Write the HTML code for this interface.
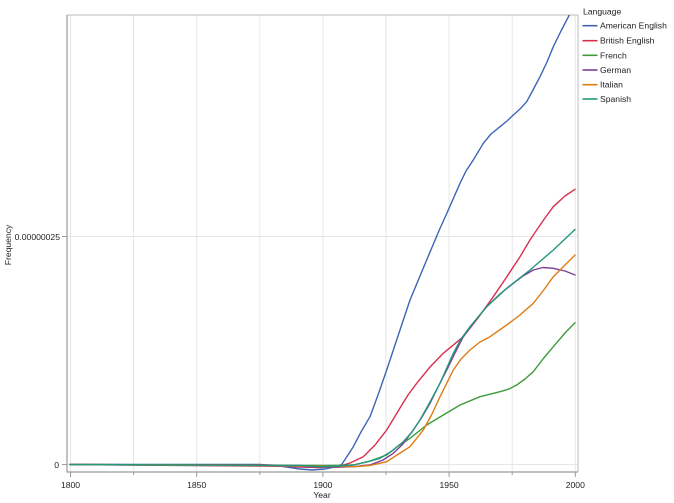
<!DOCTYPE html>
<html><head><meta charset="utf-8"><style>
html,body{margin:0;padding:0;background:#fff;}
svg{display:block;font-family:"Liberation Sans",Arial,sans-serif;}
</style></head><body>
<svg width="674" height="503" viewBox="0 0 674 503" xmlns="http://www.w3.org/2000/svg">
<defs><clipPath id="c"><rect x="67" y="15" width="511" height="457"/></clipPath></defs>
<rect width="674" height="503" fill="#fff"/>
<g stroke="#e6e6e6" stroke-width="1">
<line x1="70.5" y1="15" x2="70.5" y2="472"/><line x1="133.6" y1="15" x2="133.6" y2="472"/><line x1="196.7" y1="15" x2="196.7" y2="472"/><line x1="259.8" y1="15" x2="259.8" y2="472"/><line x1="322.9" y1="15" x2="322.9" y2="472"/><line x1="386" y1="15" x2="386" y2="472"/><line x1="449.1" y1="15" x2="449.1" y2="472"/><line x1="512.2" y1="15" x2="512.2" y2="472"/><line x1="575.3" y1="15" x2="575.3" y2="472"/>
<line x1="67" y1="464.5" x2="578" y2="464.5"/><line x1="67" y1="236.5" x2="578" y2="236.5"/>
</g>
<g fill="none" stroke="#c8c8c8" stroke-width="1.2"><line x1="67" y1="15" x2="578" y2="15"/><line x1="578" y1="15" x2="578" y2="472"/></g>
<g fill="none" stroke="#9a9a9a" stroke-width="1.2"><line x1="67" y1="15" x2="67" y2="472.5"/><line x1="67" y1="472" x2="578" y2="472"/></g>
<g stroke="#9a9a9a" stroke-width="1">
<line x1="70.5" y1="472" x2="70.5" y2="477"/><line x1="133.6" y1="472" x2="133.6" y2="475"/><line x1="196.7" y1="472" x2="196.7" y2="477"/><line x1="259.8" y1="472" x2="259.8" y2="475"/><line x1="322.9" y1="472" x2="322.9" y2="477"/><line x1="386" y1="472" x2="386" y2="475"/><line x1="449.1" y1="472" x2="449.1" y2="477"/><line x1="512.2" y1="472" x2="512.2" y2="475"/><line x1="575.3" y1="472" x2="575.3" y2="477"/>
<line x1="62" y1="464.5" x2="67" y2="464.5"/><line x1="62" y1="236.5" x2="67" y2="236.5"/>
</g>
<g font-size="8.6" fill="#222">
<text x="59" y="468" text-anchor="end">0</text>
<text x="60" y="240" text-anchor="end">0.00000025</text>
<text x="70.5" y="488" text-anchor="middle">1800</text>
<text x="196.7" y="488" text-anchor="middle">1850</text>
<text x="322.9" y="488" text-anchor="middle">1900</text>
<text x="449.1" y="488" text-anchor="middle">1950</text>
<text x="575.3" y="488" text-anchor="middle">2000</text>
<text x="322" y="498" text-anchor="middle">Year</text>
<text transform="translate(11,245) rotate(-90)" text-anchor="middle">Frequency</text>
</g>
<g clip-path="url(#c)" fill="none" stroke-width="1.4" stroke-linejoin="round" stroke-linecap="round">
<polyline stroke="#3f64b5" points="70,464.5 260,464.5 280,466 300,469 312,470 325,469 335,467 341.7,464.5 346,458 353.3,446.7 361,432 370,416.7 378,395 386.7,370 398,336 410,300 425,264 439.3,230 448.3,210 460,183.3 466,171 473.3,160 483.3,143.3 491,134 500,126.7 507,121 513.3,115 520,109 526.7,101.7 533,90 540,76.7 547,62 553.3,46.7 561,31 569.3,15 575,2"/>
<polyline stroke="#d7304e" points="70,464.5 270,465 300,467 320,467.5 340,466 350,463 363.3,456.7 375,445 386.7,430 400,408 408,395 416.7,383.3 430,367 443.3,353.3 463.3,336.7 478,318 493.3,296.7 506,278 520,256.7 530,240 536.7,230 545,218 553.3,206.7 565,196 575,189.3"/>
<polyline stroke="#3c9b3c" points="70,464.5 300,465.5 340,465.5 353.3,465 370,461 386.7,455 398,446 410,438.3 426.7,425 443.3,415 460,405 480,396.7 500,391.7 509,389 516.7,385 525,379 533.3,371.7 543,359 553.3,346.7 565,333 575,322.7"/>
<polyline stroke="#7c3f98" points="70,464.5 300,466.5 336.7,467.3 355,466.5 370,465 383,460 393.3,453.3 403,444 413.3,430 422,417 430,403.3 438,387 446.7,370 455,353 463.3,336.7 475,321 486.7,306.7 500,294 513.3,283.3 523,276 533.3,270 543,267.5 553.3,268.3 565,271 575,275"/>
<polyline stroke="#e07b14" points="70,464.5 300,466 353.3,466.7 370,465.5 386.7,461.7 397,455 410,446.7 423.3,430 432,414 440,396.7 453.3,370 461,359 470,350 480,342 490,336.7 506.7,325 520,315 533.3,303.3 543,291 553.3,276.7 565,265 575,255"/>
<polyline stroke="#24977c" points="70,464.5 300,465.5 320,466.7 340,466 353.3,465 367,462 380,458.3 392,451 403.3,441.7 412,432 420,420 430,402 440,383.3 453.3,353.3 461,339 470,326.7 486.7,306.7 506.7,288.3 530,270 553.3,250 575,229.5"/>
</g>
<g font-size="8.6" fill="#222">
<text x="583" y="14.5">Language</text>
<text x="600" y="28.7">American English</text>
<text x="600" y="43.7">British English</text>
<text x="600" y="58.3">French</text>
<text x="600" y="73">German</text>
<text x="600" y="87.7">Italian</text>
<text x="600" y="102">Spanish</text>
</g>
<g stroke-width="1.6">
<line x1="582.5" y1="25.7" x2="597.5" y2="25.7" stroke="#3f64b5"/>
<line x1="582.5" y1="40.7" x2="597.5" y2="40.7" stroke="#d7304e"/>
<line x1="582.5" y1="55.3" x2="597.5" y2="55.3" stroke="#3c9b3c"/>
<line x1="582.5" y1="70" x2="597.5" y2="70" stroke="#7c3f98"/>
<line x1="582.5" y1="84.7" x2="597.5" y2="84.7" stroke="#e07b14"/>
<line x1="582.5" y1="99" x2="597.5" y2="99" stroke="#24977c"/>
</g>
</svg>
</body></html>
